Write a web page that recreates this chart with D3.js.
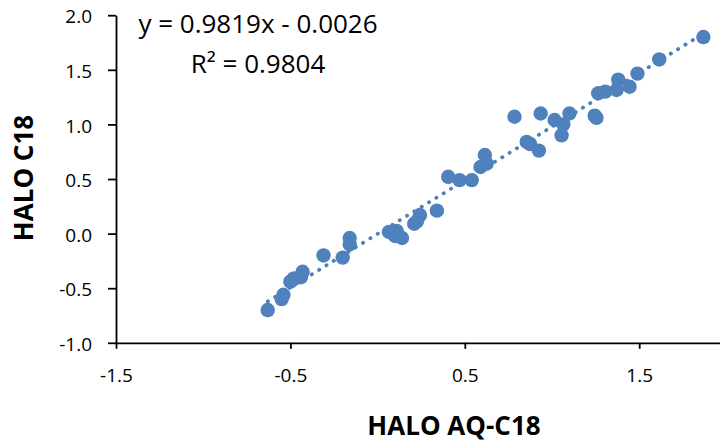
<!DOCTYPE html>
<html>
<head>
<meta charset="utf-8">
<script src="https://cdn.jsdelivr.net/npm/d3@7"></script>
<style>
  body { margin: 0; background: #ffffff; }
  svg { display: block; font-family: "Open Sans", sans-serif; }
</style>
</head>
<body>
<div class="chart"></div>
<script>
// values (HALO AQ-C18 vs HALO C18)
var xValues = [-0.63, -0.55, -0.54, -0.50, -0.48, -0.44, -0.43, -0.31, -0.20, -0.16, -0.16,
    0.065, 0.11, 0.10, 0.14, 0.21, 0.226, 0.243, 0.34, 0.405, 0.47, 0.54, 0.59, 0.615, 0.625,
    0.785, 0.855, 0.875, 0.925, 0.935, 1.015, 1.10, 1.065, 1.055, 1.245, 1.255, 1.265, 1.305,
    1.37, 1.38, 1.445, 1.49, 1.615, 1.868];
var yValues = [-0.70, -0.60, -0.56, -0.44, -0.41, -0.40, -0.35, -0.20, -0.22, -0.04, -0.10,
    0.015, 0.024, -0.022, -0.04, 0.09, 0.115, 0.17, 0.21, 0.52, 0.49, 0.49, 0.61, 0.72, 0.64,
    1.07, 0.84, 0.82, 0.76, 1.10, 1.04, 1.10, 1.00, 0.90, 1.08, 1.06, 1.285, 1.30,
    1.315, 1.41, 1.345, 1.465, 1.595, 1.80];
var xTicks = [-1.5, -0.5, 0.5, 1.5];
var yTicks = [-1.0, -0.5, 0.0, 0.5, 1.0, 1.5, 2.0];
var slope = 0.9819, intercept = -0.0026;
var eqLabel = "y = 0.9819x - 0.0026";
var r2Label = "R² = 0.9804";
var xTitle = "HALO AQ-C18";
var yTitle = "HALO C18";

var svgWidth = 720, svgHeight = 443;
var blue = "#4f81bd";

var svg = d3.select(".chart")
    .append("svg")
    .attr("width", svgWidth)
    .attr("height", svgHeight);

// scales (x axis runs past the right edge of the picture)
var xScale = d3.scaleLinear().domain([-1.5, 2.0]).range([116, 726.4]);
var yScale = d3.scaleLinear().domain([-1.0, 2.0]).range([342.8, 15.2]);

// Excel style labels: plain hyphen for negatives
var fmt = d => d.toFixed(1);

// axes
var xAxis = d3.axisBottom(xScale).tickValues(xTicks).tickSize(6).tickSizeOuter(0)
    .tickFormat(fmt);
var yAxis = d3.axisLeft(yScale).tickValues(yTicks).tickSize(8).tickSizeOuter(0)
    .tickPadding(16).tickFormat(fmt);

var gx = svg.append("g")
    .attr("transform", `translate(0, ${yScale(-1.0)})`)
    .call(xAxis);
gx.selectAll("text").attr("y", 39).attr("dy", 0);

var gy = svg.append("g")
    .attr("transform", `translate(${xScale(-1.5)}, 0)`)
    .call(yAxis);
gy.selectAll("text").attr("dy", "0.4em");

svg.selectAll(".domain, .tick line")
    .attr("stroke", "#000")
    .attr("stroke-width", 1.8);
svg.selectAll(".tick text")
    .attr("fill", "#000")
    .style("font-size", "19px")
    .style("font-family", "'Open Sans', sans-serif");

// points
var points = xValues.map((x, i) => ({ x: x, y: yValues[i] }));

svg.append("g").selectAll("circle")
    .data(points)
    .enter()
    .append("circle")
    .attr("cx", d => xScale(d.x))
    .attr("cy", d => yScale(d.y))
    .attr("r", 7.2)
    .attr("fill", blue);

// linear trendline, dotted
var xExt = d3.extent(xValues);
var line = d3.line()
    .x(d => xScale(d))
    .y(d => yScale(slope * d + intercept));

svg.append("path")
    .datum(xExt)
    .attr("d", line)
    .attr("fill", "none")
    .attr("stroke", blue)
    .attr("stroke-width", 3.8)
    .attr("stroke-linecap", "round")
    .attr("stroke-dasharray", "0.3 8.3");

// equation + R²
svg.append("text")
    .attr("x", 258).attr("y", 33)
    .attr("text-anchor", "middle")
    .style("font-size", "26px")
    .text(eqLabel);
svg.append("text")
    .attr("x", 258).attr("y", 72.5)
    .attr("text-anchor", "middle")
    .style("font-size", "26px")
    .text(r2Label);

// axis titles
svg.append("text")
    .attr("x", 454).attr("y", 435)
    .attr("text-anchor", "middle")
    .style("font-size", "26px")
    .style("font-weight", "bold")
    .text(xTitle);

svg.append("text")
    .attr("transform", "translate(33, 178) rotate(-90)")
    .attr("text-anchor", "middle")
    .style("font-size", "26px")
    .style("font-weight", "bold")
    .text(yTitle);
</script>
</body>
</html>
